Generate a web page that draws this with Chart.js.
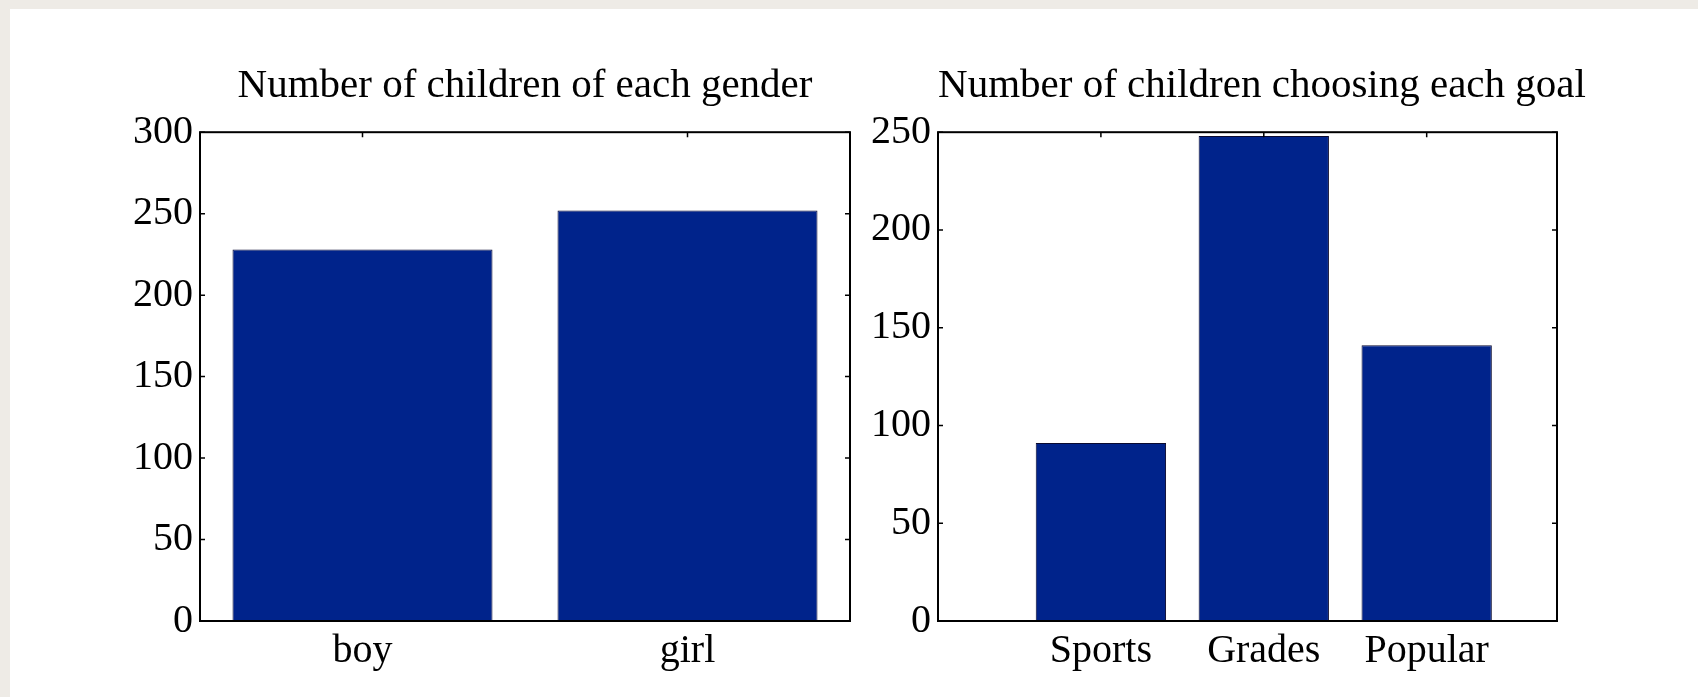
<!DOCTYPE html>
<html>
<head>
<meta charset="utf-8">
<script src="https://cdn.jsdelivr.net/npm/chart.js@4/dist/chart.umd.min.js"></script>
<style>
  html, body { margin: 0; padding: 0; background: #fff; width: 1698px; height: 697px; overflow: hidden; }
  .strip-top { position: absolute; left: 0; top: 0; width: 1698px; height: 9px; background: #eeebe6; }
  .strip-left { position: absolute; left: 0; top: 0; width: 10px; height: 697px; background: #eeebe6; }
  .box { position: absolute; top: 0; height: 697px; }
</style>
</head>
<body>
<div class="strip-top"></div>
<div class="strip-left"></div>
<div class="box" style="left:0;width:870px"><canvas id="gender"></canvas></div>
<div class="box" style="left:870px;width:784px"><canvas id="goals"></canvas></div>
<script>
// data
const genderLabels = ['boy', 'girl'];
const genderCounts = [228, 252];
const goalLabels = ['Sports', 'Grades', 'Popular'];
const goalCounts = [91, 248, 141];

const BAR = '#00238b';
const FONT = 'Liberation Serif';

// matplotlib-ish closed frame with inward ticks
const frameTicks = {
  id: 'frameTicks',
  afterDatasetsDraw(chart) {
    const { ctx, chartArea: a, scales: { x, y } } = chart;
    ctx.save();
    ctx.strokeStyle = '#000';
    ctx.lineWidth = 1.5;
    ctx.beginPath();
    y.ticks.forEach(t => {
      const py = y.getPixelForValue(t.value);
      ctx.moveTo(a.left, py); ctx.lineTo(a.left + 5, py);
      ctx.moveTo(a.right, py); ctx.lineTo(a.right - 5, py);
    });
    x.ticks.forEach((t, i) => {
      if (!t.label) return;
      const px = x.getPixelForTick(i);
      ctx.moveTo(px, a.top); ctx.lineTo(px, a.top + 5);
    });
    ctx.stroke();
    ctx.lineWidth = 2;
    ctx.strokeRect(a.left, a.top, a.right - a.left, a.bottom - a.top);
    ctx.restore();
  }
};

function baseOpts(title, yMax, yWidth, padRight, fullTitle) {
  return {
    responsive: true, maintainAspectRatio: false, animation: false,
    layout: { padding: { left: 0, right: padRight, top: 0, bottom: 0 } },
    plugins: {
      legend: { display: false },
      tooltip: { enabled: false },
      title: {
        display: true, text: title, color: '#000', fullSize: fullTitle,
        font: { family: FONT, size: 41, weight: 'normal', lineHeight: 1.2 },
        padding: { top: 62, bottom: 21 }
      }
    },
    scales: {
      y: {
        min: 0, max: yMax,
        grid: { display: false, drawTicks: false },
        border: { display: false },
        ticks: { stepSize: 50, color: '#000', padding: 7, font: { family: FONT, size: 40 } },
        afterFit(s) { s.width = yWidth; }
      }
    }
  };
}

const xCommon = {
  grid: { display: false, drawTicks: false },
  border: { display: false },
  afterFit(s) { s.height = 76; }
};
const xTickFont = { family: FONT, size: 40 };

// left: gender
const gOpts = baseOpts('Number of children of each gender', 300, 200, 20, false);
gOpts.scales.x = { ...xCommon, type: 'category', offset: true,
  ticks: { color: '#000', padding: 6, font: xTickFont } };
new Chart(document.getElementById('gender'), {
  type: 'bar',
  data: {
    labels: genderLabels,
    datasets: [{ data: genderCounts, backgroundColor: BAR, borderColor: '#0a0a30', borderWidth: 1,
      barPercentage: 0.8, categoryPercentage: 1.0 }]
  },
  options: gOpts,
  plugins: [frameTicks]
});

// right: goals, on a numeric axis from -1 to 2.8
const oOpts = baseOpts('Number of children choosing each goal', 250, 68, 0, true);
oOpts.scales.x = { ...xCommon, type: 'linear', offset: false, min: -1, max: 2.8,
  afterBuildTicks(s) { s.ticks = s.ticks.filter(t => Number.isInteger(t.value)); },
  ticks: { stepSize: 1, autoSkip: false, color: '#000', padding: 6, font: xTickFont,
    callback: v => goalLabels[v] ?? '' } };
// empty right-hand axis only to keep room right of the plot
oOpts.scales.yPad = { position: 'right', display: true,
  grid: { display: false, drawTicks: false }, border: { display: false },
  ticks: { display: false }, afterFit(s) { s.width = 97; } };
new Chart(document.getElementById('goals'), {
  type: 'bar',
  data: {
    datasets: [{ data: goalCounts.map((v, i) => ({ x: i, y: v })), backgroundColor: BAR,
      borderColor: '#0a0a30', borderWidth: 1, barPercentage: 0.8, categoryPercentage: 1.0 }]
  },
  options: oOpts,
  plugins: [frameTicks]
});
</script>
</body>
</html>
